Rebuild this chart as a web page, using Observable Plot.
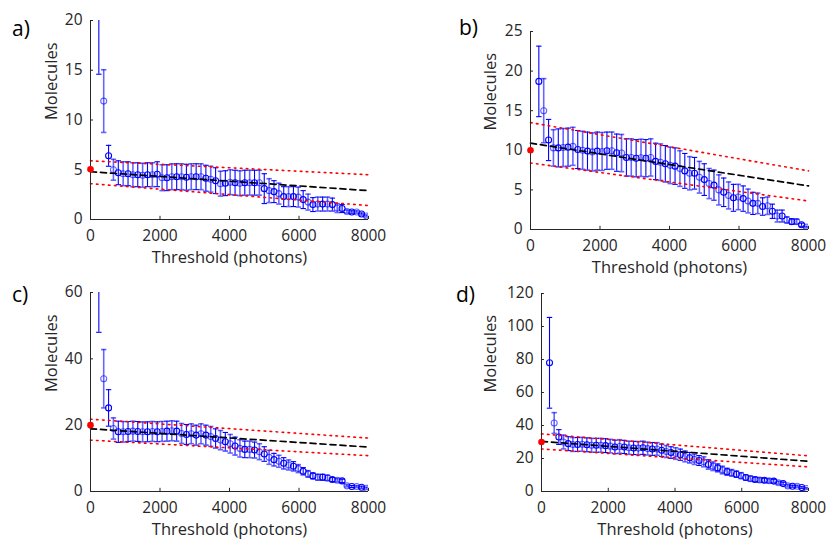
<!DOCTYPE html>
<html><head><meta charset="utf-8">
<script src="https://cdn.jsdelivr.net/npm/d3@7"></script>
<script src="https://cdn.jsdelivr.net/npm/@observablehq/plot@0.6"></script>
<style>
body{margin:0;background:#fff;}
#wrap{position:relative;width:830px;height:544px;overflow:hidden;font-family:"Open Sans",sans-serif;background:#fff;}
.panel{position:absolute;}
.lab{position:absolute;font-size:21px;color:#000;line-height:1;}
</style></head><body><div id="wrap"></div>
<script>
// Threshold values (photons)
const thresholds = [240, 380, 520, 660, 800, 940, 1080, 1220, 1360, 1500, 1640, 1780, 1920, 2060, 2200, 2340, 2480, 2620, 2760, 2900, 3040, 3180, 3320, 3460, 3600, 3740, 3880, 4020, 4160, 4300, 4440, 4580, 4720, 4860, 5000, 5140, 5280, 5420, 5560, 5700, 5840, 5980, 6120, 6260, 6400, 6540, 6680, 6820, 6960, 7100, 7240, 7380, 7520, 7660, 7800, 7940];

// Panel a
const aValues = [21, 11.9, 6.4, 5.0, 4.7, 4.6, 4.6, 4.5, 4.5, 4.45,
  4.5, 4.5, 4.55, 4.2, 4.2, 4.3, 4.3, 4.3, 4.25, 4.3,
  4.3, 4.3, 4.15, 4.05, 3.9, 3.6, 3.65, 3.75, 3.7, 3.65,
  3.7, 3.7, 3.7, 3.7, 3.1, 2.9, 2.8, 2.6, 2.3, 2.3,
  2.3, 2.25, 2.0, 1.75, 1.5, 1.55, 1.55, 1.55, 1.5, 1.15,
  1.1, 0.8, 0.75, 0.75, 0.55, 0.35];
const aErrors = [6.4, 3.15, 1.05, 1.05, 1.2, 1.2, 1.2, 1.2, 1.2, 1.2,
  1.2, 1.2, 1.25, 1.3, 1.3, 1.3, 1.3, 1.3, 1.3, 1.3,
  1.3, 1.3, 1.3, 1.3, 1.3, 1.25, 1.25, 1.25, 1.25, 1.25,
  1.25, 1.25, 1.25, 1.25, 1.5, 1.2, 1.1, 1.05, 1.0, 1.0,
  1.0, 1.0, 0.9, 0.8, 0.7, 0.7, 0.7, 0.7, 0.65, 0.45,
  0.4, 0.15, 0.12, 0.12, 0.1, 0.1];
const aFit = [4.8, 2.9], aUpper = [5.9, 4.5], aLower = [3.6, 1.4], aRef = 5.05;

// Panel b
const bValues = [18.7, 15.0, 11.3, 10.3, 10.3, 10.35, 10.4, 10.5, 10.1, 10.0,
  9.9, 9.8, 9.9, 9.85, 9.95, 9.95, 9.7, 9.65, 9.1, 9.1,
  9.0, 9.05, 9.0, 9.1, 8.6, 8.5, 8.3, 8.1, 8.0, 7.7,
  7.4, 7.1, 7.1, 6.6, 6.3, 5.8, 5.6, 5.0, 4.7, 4.3,
  4.0, 4.1, 3.9, 3.6, 3.3, 3.3, 2.9, 3.0, 2.3, 1.7,
  1.7, 1.2, 1.0, 1.0, 0.6, 0.3];
const bErrors = [4.45, 4.05, 2.6, 2.3, 2.4, 2.4, 2.4, 2.4, 2.4, 2.4,
  2.4, 2.4, 2.4, 2.4, 2.35, 2.35, 2.35, 2.35, 2.35, 2.35,
  2.35, 2.35, 2.35, 2.35, 2.3, 2.3, 2.3, 2.3, 2.3, 2.25,
  2.2, 2.1, 2.0, 2.0, 2.0, 1.9, 1.9, 1.9, 1.8, 1.7,
  1.7, 1.6, 1.6, 1.5, 1.4, 1.3, 1.1, 1.1, 0.9, 0.75,
  0.75, 0.4, 0.35, 0.3, 0.2, 0.1];
const bFit = [10.9, 5.5], bUpper = [13.5, 7.4], bLower = [8.4, 3.6], bRef = 10;

// Panel c
const cValues = [63, 34, 25.2, 19.0, 18.0, 18.0, 18.1, 18.2, 18.1, 18.0,
  18.0, 18.1, 18.0, 18.1, 18.2, 18.3, 18.2, 17.5, 17.2, 17.4,
  17.0, 17.4, 17.0, 16.6, 16.0, 15.5, 15.0, 14.4, 13.7, 13.0,
  12.7, 12.7, 12.5, 12.0, 11.3, 10.3, 9.6, 9.1, 8.5, 8.0,
  7.6, 6.9, 6.1, 5.3, 4.7, 4.3, 4.3, 4.1, 3.6, 3.4,
  3.2, 1.7, 1.5, 1.5, 1.3, 1.0];
const cErrors = [15, 8.8, 5.5, 3.2, 3.2, 3.1, 3.0, 3.0, 3.0, 3.0,
  3.0, 3.0, 3.0, 3.0, 3.0, 3.0, 3.0, 3.0, 3.0, 3.0,
  3.0, 3.0, 3.0, 3.0, 2.9, 2.9, 2.8, 2.8, 2.7, 2.6,
  2.5, 2.5, 2.4, 2.4, 2.2, 2.1, 1.9, 1.8, 1.7, 1.5,
  1.4, 1.2, 1.1, 1.0, 0.9, 0.9, 0.9, 0.8, 0.6, 0.5,
  0.5, 0.3, 0.3, 0.3, 0.3, 0.3];
const cFit = [18.9, 13.4], cUpper = [21.8, 16.1], cLower = [15.5, 10.8], cRef = 20;

// Panel d
const dValues = [78, 41.5, 33, 30.0, 29.0, 28.5, 28.5, 28.6, 28.3, 28.0,
  28.0, 28.0, 27.8, 27.5, 27.0, 27.3, 27.0, 26.5, 26.4, 26.3,
  26.5, 26.0, 25.8, 25.8, 25.0, 24.2, 23.6, 23.0, 22.3, 21.3,
  20.5, 19.5, 18.8, 18.0, 16.4, 15.3, 14.3, 13.0, 12.0, 11.3,
  10.5, 9.6, 8.5, 7.8, 7.3, 7.0, 6.8, 6.5, 6.3, 5.3,
  4.8, 3.4, 3.2, 3.2, 2.4, 1.8];
const dErrors = [27.5, 6.3, 4.5, 4.2, 4.2, 4.2, 4.2, 4.2, 4.2, 4.2,
  4.2, 4.2, 4.2, 4.1, 4.1, 4.1, 4.0, 4.0, 4.0, 4.0,
  4.0, 3.9, 3.9, 3.8, 3.7, 3.6, 3.5, 3.5, 3.4, 3.3,
  3.2, 3.1, 3.0, 3.0, 2.8, 2.6, 2.4, 2.3, 2.1, 2.0,
  1.9, 1.8, 1.6, 1.5, 1.4, 1.3, 1.2, 1.2, 1.1, 0.9,
  0.8, 0.7, 0.6, 0.6, 0.5, 0.5];
const dFit = [30.4, 18.3], dUpper = [34.9, 21.6], dLower = [25.8, 14.9], dRef = 30;

const fitX = [0, 8000];
const xTicks = [0, 2000, 4000, 6000, 8000];
const aTicks = [0, 5, 10, 15, 20];
const bTicks = [0, 5, 10, 15, 20, 25];
const cTicks = [0, 20, 40, 60];
const dTicks = [0, 20, 40, 60, 80, 100, 120];
const panelLabels = ["a)", "b)", "c)", "d)"];
const xLabel = "Threshold (photons)";
const yLabel = "Molecules";

const panels = [
  {vals: aValues, errs: aErrors, fit: aFit, up: aUpper, lo: aLower, ref: aRef, ticks: aTicks,
   left: 0, top: 0, ml: 90, mr: 47, mt: 20, mb: 53, ylabDx: -39, labX: 12, labY: 18},
  {vals: bValues, errs: bErrors, fit: bFit, up: bUpper, lo: bLower, ref: bRef, ticks: bTicks,
   left: 415, top: 0, ml: 115, mr: 22, mt: 31, mb: 43, ylabDx: -40, labX: 459, labY: 17},
  {vals: cValues, errs: cErrors, fit: cFit, up: cUpper, lo: cLower, ref: cRef, ticks: cTicks,
   left: 0, top: 272, ml: 90, mr: 47, mt: 20, mb: 53, ylabDx: -39, labX: 12, labY: 284},
  {vals: dValues, errs: dErrors, fit: dFit, up: dUpper, lo: dLower, ref: dRef, ticks: dTicks,
   left: 415, top: 272, ml: 126, mr: 22, mt: 21, mb: 53, ylabDx: -51, labX: 456, labY: 284}
];

const capSymbol = {draw(ctx) { ctx.moveTo(-2.7, 0); ctx.lineTo(2.7, 0); }};
const axisColor = "#262626";
const wrap = document.getElementById("wrap");

panels.forEach((p, k) => {
  const yMax = p.ticks[p.ticks.length - 1];
  const data = thresholds.map((x, i) => ({x, v: p.vals[i], e: p.errs[i], i}));
  const lineData = (arr) => fitX.map((x, j) => ({x, y: arr[j]}));
  const op = d => (d.i % 2 ? 0.6 : 1);
  const sw = d => (d.i % 2 ? 1.6 : 1.1);
  const chart = Plot.plot({
    width: 415, height: 272,
    marginLeft: p.ml, marginRight: p.mr, marginTop: p.mt, marginBottom: p.mb,
    x: {domain: [0, 8000], axis: null},
    y: {domain: [0, yMax], axis: null},
    style: {fontFamily: '"Open Sans", sans-serif', color: axisColor, background: "transparent", overflow: "visible"},
    marks: [
      Plot.ruleX(data, {x: "x", y1: d => d.v - d.e, y2: d => d.v + d.e, stroke: "#0000ff", strokeOpacity: op, strokeWidth: sw, clip: true}),
      Plot.dot(data, {x: "x", y: d => d.v + d.e, symbol: capSymbol, stroke: "#0000ff", strokeOpacity: op, fill: "none", strokeWidth: sw, clip: true}),
      Plot.dot(data, {x: "x", y: d => d.v - d.e, symbol: capSymbol, stroke: "#0000ff", strokeOpacity: op, fill: "none", strokeWidth: sw, clip: true}),
      Plot.dot(data, {x: "x", y: "v", r: 3, stroke: "#0000ff", strokeOpacity: op, fill: "none", strokeWidth: 1.1, clip: true}),
      Plot.line(lineData(p.up), {x: "x", y: "y", stroke: "#ff0000", strokeWidth: 1.6, strokeDasharray: "1.6,4.4"}),
      Plot.line(lineData(p.lo), {x: "x", y: "y", stroke: "#ff0000", strokeWidth: 1.6, strokeDasharray: "1.6,4.4"}),
      Plot.line(lineData(p.fit), {x: "x", y: "y", stroke: "#000000", strokeWidth: 1.7, strokeDasharray: "6,4"}),
      Plot.ruleY([0], {stroke: axisColor}),
      Plot.ruleX([0], {stroke: axisColor}),
      Plot.ruleX(xTicks, {y1: 0, y2: yMax * 0.016, stroke: axisColor}),
      Plot.ruleY(p.ticks, {x1: 0, x2: 8000 * 0.011, stroke: axisColor}),
      Plot.text(xTicks, {x: d => d, text: d => String(d), frameAnchor: "bottom", dy: 17, lineAnchor: "middle", fontSize: 15.5, fill: axisColor}),
      Plot.text(p.ticks, {y: d => d, text: d => String(d), frameAnchor: "left", dx: -8, textAnchor: "end", lineAnchor: "middle", fontSize: 15.5, fill: axisColor}),
      Plot.dot([p.ref], {x: () => 0, y: d => d, r: 3.3, fill: "#ff0000", stroke: "none"}),
      Plot.text([xLabel], {frameAnchor: "bottom", dy: 43, fontSize: 16.5, fill: axisColor}),
      Plot.text([yLabel], {frameAnchor: "left", dx: p.ylabDx, rotate: -90, fontSize: 16.5, fill: axisColor})
    ]
  });
  chart.classList.add("panel");
  chart.style.left = p.left + "px";
  chart.style.top = p.top + "px";
  wrap.appendChild(chart);
  const lab = document.createElement("div");
  lab.className = "lab";
  lab.textContent = panelLabels[k];
  lab.style.left = p.labX + "px";
  lab.style.top = p.labY + "px";
  wrap.appendChild(lab);
});
</script>
</body></html>
